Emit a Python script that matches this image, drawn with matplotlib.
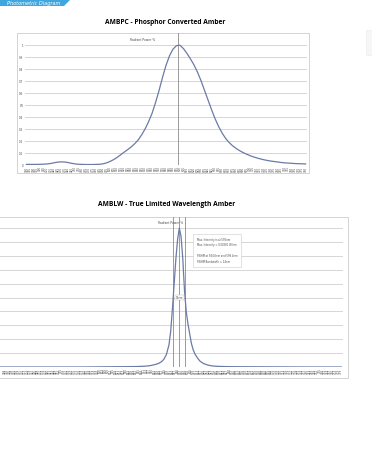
import numpy as np
import matplotlib
matplotlib.use("Agg")
import matplotlib.pyplot as plt
from matplotlib.patches import Rectangle, Polygon

W, H = 372, 462

# AMBPC spectrum (relative radiant power), 380-780 nm, 5 nm steps
pc_wl = list(range(380, 785, 5))
pc_val = [0.005, 0.005, 0.005, 0.005, 0.006, 0.007, 0.009, 0.013, 0.019, 0.024,
          0.026, 0.025, 0.020, 0.014, 0.009, 0.006, 0.005, 0.004, 0.004, 0.004,
          0.005, 0.006, 0.010, 0.018, 0.030, 0.045, 0.063, 0.085, 0.107, 0.128,
          0.150, 0.176, 0.208, 0.250, 0.300, 0.360, 0.430, 0.520, 0.620, 0.730,
          0.830, 0.910, 0.965, 0.995, 0.998, 0.970, 0.930, 0.885, 0.835, 0.775,
          0.705, 0.625, 0.545, 0.465, 0.390, 0.325, 0.270, 0.225, 0.190, 0.162,
          0.140, 0.121, 0.105, 0.091, 0.079, 0.068, 0.059, 0.051, 0.044, 0.038,
          0.033, 0.029, 0.025, 0.021, 0.018, 0.016, 0.014, 0.012, 0.011, 0.010,
          0.009]
pc_peak = 597

# AMBLW spectrum
lw_wl = [380, 400, 420, 440, 460, 480, 500, 520, 540, 550, 556, 560, 564, 568,
         571, 574, 577, 580, 582, 584, 586, 588, 590, 592, 594, 596, 598, 600,
         602, 604, 606, 608, 610, 613, 616, 620, 625, 630, 635, 645, 660, 700,
         740, 780]
lw_val = [0, 0, 0, 0, 0, 0, 0.001, 0.002, 0.003, 0.005, 0.008, 0.012, 0.018,
          0.026, 0.037, 0.055, 0.090, 0.160, 0.260, 0.420, 0.600, 0.780, 0.920,
          1.000, 0.940, 0.780, 0.550, 0.400, 0.310, 0.240, 0.170, 0.125, 0.095,
          0.065, 0.042, 0.025, 0.014, 0.008, 0.005, 0.003, 0.002, 0.001, 0, 0]
lw_peak = 592
lw_fwhm = (585, 599)
lw_notes = ["Max. Intensity is at 592nm",
            "Max. Intensity = 0.00381 W/nm",
            "",
            "FWHM at 584.6nm and 598.4nm",
            "FWHM Bandwidth = 14nm"]

line_col = "#6c7aa6"
grid_col = "#d0d0d0"
text_col = "#4a4a4a"


def rect(x0, y0, x1, y1):
    return [x0 / W, 1 - y1 / H, (x1 - x0) / W, (y1 - y0) / H]


def spectrum_axes(pos, wl, val, xticks, ytop, first_label=0, ylabels=True):
    ax = fig.add_axes(pos)
    ax.set_zorder(2)
    ax.plot(wl, val, color=line_col, lw=0.9, zorder=3)
    ax.set_xlim(378, 782)
    ax.set_ylim(0, ytop)
    ax.set_yticks(np.arange(0, 1.01, 0.1))
    if ylabels:
        ax.set_yticklabels(["0"] + [f"{v:.1f}" for v in np.arange(0.1, 0.95, 0.1)] + ["1"],
                           fontsize=2, color=text_col)
    else:
        ax.set_yticklabels([])
    ax.set_xticks(xticks)
    ax.set_xticklabels([str(t) if t >= first_label else "" for t in xticks],
                       rotation=90, fontsize=2, color=text_col)
    ax.tick_params(length=0, pad=1)
    ax.grid(axis="y", color=grid_col, lw=0.6)
    for s in ax.spines.values():
        s.set_visible(False)
    ax.patch.set_alpha(0)
    return ax


fig = plt.figure(figsize=(W / 100, H / 100), dpi=100)

# blue header tab at the top-left corner
fig.patches.append(Polygon([(0, 1), (70 / W, 1), (64 / W, 1 - 6 / H), (0, 1 - 6 / H)],
                           closed=True, transform=fig.transFigure,
                           facecolor="#3fa6de", edgecolor="none"))
fig.text(60 / W, 1 - 3 / H, "Photometric Diagram", ha="right", va="center",
         fontsize=3.6, color="white", style="italic")

# faint element at right edge
fig.patches.append(Rectangle((366 / W, 1 - 55 / H), 8 / W, 25 / H,
                             transform=fig.transFigure, facecolor="#f6f6f6",
                             edgecolor="#eeeeee", lw=0.5))

# ---- chart 1 ----
fig.text(165 / W, 1 - 22 / H, "AMBPC - Phosphor Converted Amber", ha="center",
         va="center", fontsize=4.8, fontweight="bold", family="Open Sans")
fig.patches.append(Rectangle((17 / W, 1 - 173 / H), 292 / W, 140 / H,
                             transform=fig.transFigure, facecolor="white",
                             edgecolor="#cccccc", lw=0.6))
ax1 = spectrum_axes(rect(25, 33, 307, 165), pc_wl, pc_val, pc_wl, 1.1)
ax1.axvline(pc_peak, color="#9a9a9a", lw=0.7, zorder=2)
ax1.text(547, 1.045, "Radiant Power %", ha="center", va="center",
         fontsize=2.2, color=text_col)

# ---- chart 2 ----
fig.text(167 / W, 1 - 205 / H, "AMBLW - True Limited Wavelength Amber",
         ha="center", va="center", fontsize=4.8, fontweight="bold",
         family="Open Sans")
fig.patches.append(Rectangle((-10 / W, 1 - 378 / H), 358 / W, 161 / H,
                             transform=fig.transFigure, facecolor="white",
                             edgecolor="#cccccc", lw=0.6))
lw_ticks = list(range(380, 781, 3))
ax2 = spectrum_axes(rect(-5, 217, 343, 367), lw_wl, lw_val, lw_ticks, 1.08,
                    first_label=388, ylabels=False)
ax2.axvline(lw_peak, color="#9a9a9a", lw=0.7, zorder=2)
for x in lw_fwhm:
    ax2.axvline(x, color="#9a9a9a", lw=0.7, zorder=2)
ax2.plot(lw_fwhm, [0.5, 0.5], color="#9a9a9a", lw=0.5, zorder=2)
ax2.text(sum(lw_fwhm) / 2, 0.5, "14nm", ha="center", va="center", fontsize=1.8,
         color=text_col, zorder=4,
         bbox=dict(facecolor="white", edgecolor="#bbbbbb", lw=0.3, pad=0.6))
ax2.text(lw_peak - 10, 1.04, "Radiant Power %", ha="center", va="center",
         fontsize=2.2, color=text_col)
ax2.text(612, 0.93, "\n".join(lw_notes), ha="left", va="top", fontsize=1.8,
         color=text_col, linespacing=1.5, zorder=4,
         bbox=dict(facecolor="white", edgecolor="#cccccc", lw=0.4, pad=2.5))

fig.savefig("out.png", dpi=100, facecolor="white")
